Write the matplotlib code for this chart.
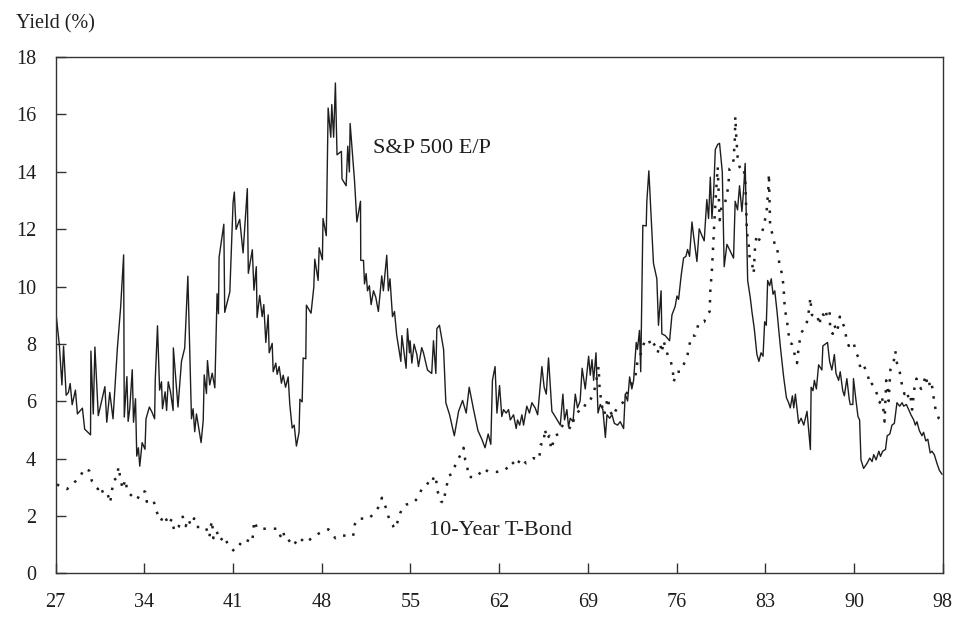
import matplotlib
matplotlib.use("Agg")
import matplotlib.pyplot as plt

# S&P 500 earnings/price yield (%)
sp_year = [27.00, 27.29, 27.50, 27.63, 27.84, 28.02, 28.16, 28.32, 28.58, 28.74,
           29.14, 29.32, 29.79, 29.82, 30.01, 30.14, 30.41, 30.94, 31.09, 31.33,
           31.59, 31.94, 32.20, 32.44, 32.49, 32.70, 32.80, 32.93, 33.13, 33.23,
           33.39, 33.49, 33.62, 33.73, 33.92, 34.15, 34.23, 34.50, 34.71, 34.92,
           34.97, 35.15, 35.32, 35.47, 35.55, 35.76, 35.88, 36.01, 36.19, 36.40,
           36.42, 36.79, 37.07, 37.33, 37.58, 37.87, 38.00, 38.13, 38.27, 38.64,
           38.81, 38.89, 39.07, 39.15, 39.33, 39.53, 39.74, 39.92, 40.03, 40.08,
           40.46, 40.53, 40.74, 40.94, 41.20, 41.30, 41.44, 41.73, 42.00, 42.34,
           42.42, 42.74, 42.87, 43.06, 43.12, 43.33, 43.53, 43.66, 43.82, 44.01,
           44.09, 44.33, 44.41, 44.62, 44.73, 44.89, 45.07, 45.21, 45.40, 45.61,
           45.74, 45.93, 46.09, 46.27, 46.48, 46.55, 46.73, 46.81, 47.02, 47.07,
           47.44, 47.66, 47.74, 48.01, 48.09, 48.35, 48.40, 48.66, 48.81, 49.02,
           49.10, 49.25, 49.39, 49.52, 49.87, 49.92, 50.25, 50.38, 50.51, 50.57,
           50.92, 51.11, 51.40, 51.42, 51.64, 51.72, 51.85, 51.96, 52.11, 52.25,
           52.44, 52.62, 52.83, 53.10, 53.23, 53.50, 53.63, 53.76, 53.96, 54.12,
           54.30, 54.63, 54.71, 55.05, 55.16, 55.32, 55.37, 55.51, 55.69, 55.91,
           56.04, 56.30, 56.44, 56.76, 57.10, 57.24, 57.43, 57.51, 57.72, 57.91,
           58.05, 58.23, 58.53, 58.91, 59.25, 59.57, 59.86, 60.10, 60.45, 60.80,
           61.11, 61.37, 61.62, 61.83, 61.96, 62.17, 62.32, 62.53, 62.71, 62.85,
           63.06, 63.25, 63.39, 63.65, 63.86, 63.97, 64.14, 64.32, 64.45, 64.71,
           64.92, 65.12, 65.38, 65.58, 65.92, 66.10, 66.27, 66.45, 66.72, 66.98,
           67.39, 67.60, 67.73, 67.92, 68.05, 68.19, 68.41, 68.59, 68.77, 68.98,
           69.14, 69.39, 69.66, 69.79, 69.93, 70.06, 70.25, 70.41, 70.59, 70.80,
           71.00, 71.13, 71.34, 71.53, 71.72, 71.98, 72.19, 72.46, 72.59, 72.78,
           72.94, 73.12, 73.26, 73.47, 73.57, 73.73, 73.83, 74.00, 74.27, 74.32,
           74.48, 74.63, 74.85, 75.12, 75.25, 75.46, 75.52, 75.79, 76.14, 76.33,
           76.59, 76.73, 76.86, 77.07, 77.26, 77.45, 77.58, 77.74, 77.93, 78.06,
           78.33, 78.51, 78.73, 78.91, 79.12, 79.26, 79.40, 79.53, 79.66, 79.80,
           79.99, 80.14, 80.36, 80.51, 80.73, 81.00, 81.26, 81.39, 81.58, 81.74,
           81.93, 82.06, 82.19, 82.27, 82.39, 82.60, 82.73, 82.92, 83.13, 83.29,
           83.46, 83.62, 83.75, 83.88, 83.99, 84.15, 84.28, 84.42, 84.56, 84.74,
           85.00, 85.27, 85.49, 85.67, 85.80, 85.97, 86.08, 86.21, 86.47, 86.67,
           86.88, 87.14, 87.41, 87.47, 87.62, 87.73, 87.89, 88.07, 88.33, 88.41,
           88.60, 88.78, 88.95, 89.13, 89.33, 89.46, 89.67, 89.80, 90.00, 90.13,
           90.33, 90.52, 90.60, 90.81, 90.86, 91.05, 91.22, 91.35, 91.46, 91.67,
           91.95, 92.16, 92.35, 92.48, 92.67, 92.89, 93.02, 93.20, 93.42, 93.56,
           93.77, 93.94, 94.13, 94.34, 94.56, 94.75, 94.88, 95.09, 95.28, 95.46,
           95.68, 95.81, 95.94, 96.13, 96.34, 96.47, 96.65, 96.81, 97.00, 97.14,
           97.33, 97.54, 97.73, 97.94]
sp_ep = [9.16, 7.98, 6.57, 7.92, 6.21, 6.31, 6.62, 5.88, 6.39, 5.56,
         5.76, 5.03, 4.83, 7.75, 5.56, 7.89, 5.50, 6.51, 5.27, 6.31,
         5.39, 7.86, 9.28, 11.10, 5.45, 6.86, 5.30, 5.75, 7.10, 5.27,
         6.09, 4.09, 4.38, 3.74, 4.56, 4.33, 5.39, 5.80, 5.62, 5.39,
         6.74, 8.63, 6.39, 6.68, 5.74, 6.33, 5.68, 6.68, 6.33, 5.68,
         7.86, 5.80, 7.39, 7.86, 10.36, 5.39, 5.74, 4.94, 5.56, 4.56,
         5.33, 6.92, 6.27, 7.42, 6.57, 6.98, 6.47, 9.75, 9.05, 11.02,
         12.17, 9.10, 9.46, 9.81, 12.93, 13.29, 11.99, 12.34, 11.17, 13.41,
         10.46, 11.28, 9.87, 10.69, 8.92, 9.69, 8.95, 9.37, 8.05, 9.01,
         7.69, 8.02, 7.03, 7.33, 6.94, 7.21, 6.63, 6.91, 6.49, 6.85,
         5.89, 5.07, 5.17, 4.44, 4.92, 6.07, 5.98, 7.51, 7.48, 9.35,
         9.07, 9.97, 10.95, 10.21, 11.35, 10.93, 12.37, 11.77, 16.22, 15.20,
         16.34, 15.20, 17.09, 14.59, 14.71, 13.75, 13.51, 14.89, 13.99, 15.68,
         13.69, 12.25, 12.97, 10.91, 10.91, 10.09, 10.45, 9.85, 10.03, 9.37,
         9.85, 9.63, 9.13, 10.37, 9.85, 11.09, 9.85, 10.27, 8.95, 9.13,
         8.29, 7.39, 8.29, 7.15, 8.53, 7.69, 8.11, 7.33, 7.99, 7.63,
         7.21, 7.87, 7.69, 7.09, 6.97, 8.11, 6.97, 8.53, 8.65, 8.17,
         7.81, 5.95, 5.53, 4.80, 5.65, 6.03, 5.59, 6.49, 5.71, 4.98,
         4.68, 4.38, 4.86, 4.50, 6.73, 7.21, 5.59, 6.55, 5.47, 5.71,
         5.59, 5.71, 5.35, 5.53, 5.05, 5.35, 5.17, 5.53, 5.17, 5.83,
         5.59, 5.95, 5.77, 5.53, 7.21, 6.49, 6.25, 7.51, 5.65, 5.47,
         5.17, 6.25, 5.35, 5.71, 5.11, 5.41, 5.29, 6.25, 5.77, 6.01,
         7.15, 6.43, 7.57, 6.91, 7.45, 6.73, 7.69, 5.59, 5.89, 5.71,
         4.74, 5.53, 5.41, 5.53, 5.23, 5.17, 5.29, 5.05, 6.25, 6.01,
         6.85, 6.43, 6.73, 8.05, 7.81, 8.47, 7.03, 12.13, 12.11, 12.97,
         14.03, 12.73, 10.81, 10.27, 8.65, 9.85, 8.35, 8.29, 8.11, 9.01,
         9.31, 9.67, 9.55, 10.39, 10.99, 11.05, 11.29, 11.05, 12.25, 11.77,
         10.87, 12.01, 11.77, 11.59, 13.03, 12.37, 13.81, 12.37, 13.21, 14.77,
         14.95, 14.99, 13.99, 10.69, 11.47, 11.23, 10.99, 12.97, 12.67, 13.51,
         12.61, 13.33, 14.29, 12.61, 10.21, 9.61, 9.13, 8.53, 7.63, 7.39,
         7.69, 7.57, 8.77, 8.65, 10.21, 10.03, 10.27, 9.73, 9.85, 9.13,
         7.93, 6.85, 6.13, 5.95, 5.77, 6.19, 5.77, 6.25, 5.23, 5.41,
         5.17, 5.65, 4.32, 6.49, 6.37, 6.73, 6.43, 7.27, 7.09, 7.93,
         7.99, 8.05, 7.39, 7.09, 7.63, 6.97, 6.73, 7.03, 6.37, 6.19,
         6.79, 6.07, 5.89, 5.89, 6.79, 6.07, 5.47, 5.35, 3.96, 3.66,
         3.84, 4.02, 3.90, 4.14, 3.96, 4.26, 4.08, 4.26, 4.32, 4.80,
         4.86, 5.17, 5.23, 5.95, 5.83, 5.95, 5.83, 5.89, 5.71, 5.53,
         5.35, 5.17, 5.29, 4.98, 4.80, 4.92, 4.62, 4.68, 4.20, 4.26,
         4.14, 3.84, 3.60, 3.46]

# 10-year Treasury bond yield (%)
bond_year = [27.10, 27.91, 28.32, 28.93, 29.31, 29.69, 29.90, 30.38, 30.57, 30.78,
             31.10, 31.36, 31.50, 31.64, 31.90, 32.03, 32.16, 32.36, 32.57, 32.75,
             33.10, 33.49, 33.90, 34.16, 34.29, 34.56, 34.83, 35.04, 35.41, 35.70,
             36.03, 36.29, 36.50, 36.83, 37.17, 37.41, 37.62, 37.81, 38.08, 38.29,
             38.55, 39.01, 39.30, 39.49, 39.57, 39.62, 39.88, 40.16, 40.50, 40.81,
             41.29, 41.83, 42.07, 42.73, 42.89, 43.14, 44.01, 44.81, 44.99, 45.21,
             45.34, 45.62, 46.01, 46.48, 46.99, 47.34, 47.66, 48.27, 48.83, 49.39,
             49.73, 50.22, 50.81, 50.94, 51.21, 52.03, 52.31, 52.70, 52.98, 53.11,
             53.29, 53.45, 53.56, 53.64, 53.77, 53.99, 54.09, 54.25, 54.44, 54.57,
             54.71, 54.84, 55.05, 55.64, 55.99, 56.30, 56.58, 56.84, 57.10, 57.30,
             57.46, 57.56, 57.82, 58.05, 58.18, 58.36, 58.49, 58.71, 58.90, 59.07,
             59.25, 59.52, 59.65, 59.78, 59.91, 60.05, 60.31, 60.71, 61.24, 61.65,
             62.32, 62.98, 63.51, 63.86, 64.23, 64.66, 65.25, 65.65, 65.73, 65.83,
             66.04, 66.17, 66.30, 66.52, 66.66, 66.98, 67.24, 67.65, 68.04, 68.26,
             68.59, 68.86, 69.21, 69.47, 69.65, 70.06, 70.33, 70.46, 70.54, 70.73,
             70.91, 71.18, 71.39, 71.60, 71.79, 72.05, 72.39, 72.67, 72.98, 73.39,
             73.57, 73.78, 74.00, 74.19, 74.46, 74.64, 74.80, 74.99, 75.18, 75.39,
             75.52, 75.66, 75.85, 76.06, 76.24, 76.41, 76.46, 76.73, 77.00, 77.26,
             77.58, 77.74, 77.93, 78.19, 78.46, 78.59, 78.91, 79.12, 79.35, 79.40,
             79.53, 79.61, 79.69, 79.79, 79.89, 79.99, 80.07, 80.15, 80.30, 80.47,
             80.73, 80.87, 80.94, 81.13, 81.26, 81.37, 81.40, 81.48, 81.59, 81.74,
             81.93, 82.07, 82.20, 82.33, 82.46, 82.54, 82.74, 82.87, 83.00, 83.13,
             83.26, 83.41, 83.62, 83.80, 83.93, 84.06, 84.09, 84.19, 84.42, 84.60,
             84.73, 84.86, 84.95, 85.14, 85.27, 85.32, 85.40, 85.53, 85.75, 85.94,
             86.07, 86.20, 86.34, 86.47, 86.60, 86.73, 86.92, 87.14, 87.35, 87.40,
             87.53, 87.73, 87.94, 88.15, 88.25, 88.48, 88.61, 88.74, 88.95, 89.00,
             89.20, 89.33, 89.55, 89.77, 89.82, 90.00, 90.13, 90.28, 90.48, 90.66,
             90.87, 91.06, 91.28, 91.41, 91.67, 92.00, 92.21, 92.34, 92.60, 92.74,
             92.96, 93.14, 93.27, 93.35, 93.48, 93.60, 93.68, 93.81, 94.08, 94.21,
             94.34, 94.56, 94.75, 94.94, 95.14, 95.28, 95.42, 95.55, 95.73, 95.90,
             96.09, 96.28, 96.50, 96.63, 96.77, 96.90, 97.00, 97.14, 97.28, 97.41,
             97.54, 97.68, 97.82]
bond_yield = [3.10, 2.94, 3.10, 3.36, 3.66, 3.58, 3.22, 2.94, 3.06, 2.82,
              2.86, 2.46, 2.88, 3.24, 3.34, 3.72, 3.36, 2.94, 3.27, 2.85,
              2.70, 2.56, 2.88, 2.85, 2.50, 2.58, 2.55, 2.19, 1.83, 2.04,
              1.70, 1.90, 1.47, 1.62, 1.98, 1.65, 1.90, 1.68, 1.92, 1.62,
              1.62, 1.62, 1.26, 1.84, 1.56, 1.23, 1.48, 1.14, 1.30, 0.98,
              0.78, 1.06, 1.20, 1.08, 1.83, 1.56, 1.56, 1.56, 1.30, 1.50,
              1.18, 1.18, 0.96, 1.26, 1.06, 1.18, 1.30, 1.44, 1.54, 1.23,
              1.32, 1.32, 1.30, 1.71, 1.92, 1.90, 2.02, 2.22, 2.40, 2.64,
              2.43, 2.28, 2.16, 1.98, 1.80, 1.68, 1.56, 1.62, 1.92, 2.10,
              2.22, 2.34, 2.40, 2.46, 2.64, 2.94, 3.00, 3.18, 3.12, 3.42,
              3.24, 2.88, 2.52, 2.46, 2.82, 3.18, 3.42, 3.46, 3.66, 3.90,
              4.02, 4.20, 4.38, 3.96, 3.84, 3.36, 3.36, 3.36, 3.66, 3.54,
              3.54, 3.60, 3.90, 3.72, 4.02, 3.84, 4.02, 3.96, 4.11, 4.50,
              4.50, 5.04, 4.68, 4.80, 4.32, 4.80, 4.86, 5.23, 5.11, 5.04,
              5.53, 5.65, 5.89, 5.83, 5.95, 6.25, 6.85, 7.21, 6.43, 5.83,
              5.53, 6.13, 5.65, 5.47, 5.65, 5.83, 5.95, 6.25, 6.49, 6.85,
              7.39, 7.57, 7.93, 8.11, 8.17, 7.93, 8.05, 7.93, 7.69, 7.99,
              7.69, 8.11, 7.81, 7.51, 7.39, 7.03, 6.67, 7.03, 7.03, 7.27,
              7.63, 7.99, 8.29, 8.29, 8.71, 8.77, 8.77, 9.01, 9.13, 9.85,
              10.57, 11.23, 11.95, 12.79, 13.51, 14.17, 13.27, 12.31, 12.79, 12.79,
              13.15, 13.69, 14.11, 14.17, 14.41, 15.20, 15.92, 15.20, 14.47, 14.17,
              14.05, 14.11, 13.69, 11.89, 11.53, 11.05, 10.81, 10.45, 11.53, 11.77,
              11.59, 11.71, 12.01, 12.37, 12.73, 13.51, 13.93, 12.07, 11.77, 11.35,
              11.35, 11.05, 10.69, 10.45, 9.97, 9.49, 9.13, 8.83, 8.05, 7.99,
              7.81, 7.51, 7.33, 7.87, 8.23, 8.41, 8.59, 8.77, 9.31, 9.61,
              9.01, 8.95, 9.01, 8.65, 9.07, 9.01, 9.19, 8.95, 9.13, 8.47,
              8.35, 8.65, 8.41, 8.95, 8.77, 8.71, 8.59, 8.23, 7.93, 8.05,
              8.05, 7.69, 7.51, 7.15, 7.27, 6.91, 6.55, 6.61, 6.43, 6.25,
              5.95, 6.19, 5.65, 5.29, 6.73, 6.37, 6.01, 7.09, 7.39, 7.75,
              7.33, 7.03, 6.55, 6.25, 6.37, 6.07, 6.19, 5.71, 6.43, 6.79,
              6.55, 6.43, 6.67, 6.91, 6.61, 6.73, 6.43, 6.55, 6.13, 5.77,
              5.59, 5.41, 5.35]

tick_pos = [27.0, 34.1, 41.2, 48.3, 55.4, 62.5, 69.6, 76.7, 83.8, 90.9, 98.0]
tick_labels = ['27', '34', '41', '48', '55', '62', '69', '76', '83', '90', '98']

plt.rcParams['font.family'] = ['Liberation Serif', 'DejaVu Serif']
ink = '#1e1e1e'

fig = plt.figure(figsize=(9.55, 6.22), dpi=100)
ax = fig.add_axes([0.0583, 0.078, 0.9288, 0.8305])

ax.plot(sp_year, sp_ep, color=ink, lw=1.0)
ax.plot(bond_year, bond_yield, color=ink, lw=1.8, linestyle=(0, (1, 3.2)))

# series labels
ax.text(52.4, 14.8, 'S&P 500 E/P', fontsize=16, color=ink, va='center', ha='left')
ax.text(56.9, 1.5, '10-Year T-Bond', fontsize=16, color=ink, va='center', ha='left')
fig.text(0.017, 0.962, 'Yield (%)', fontsize=14.5, color=ink, va='center', ha='left')

ax.set_xlim(27, 98)
ax.set_ylim(0, 18)
ax.set_xticks(tick_pos)
ax.set_xticklabels(tick_labels)
ax.set_yticks(range(0, 19, 2))
ax.tick_params(axis='both', direction='in', length=7, width=1.0, colors='#333333',
               labelsize=14.5, labelcolor=ink)
ax.tick_params(axis='y', pad=14)
ax.tick_params(axis='x', pad=14)
for s in ax.spines.values():
    s.set_color('#333333')
    s.set_linewidth(1.0)

fig.savefig('out.png', dpi=100)
